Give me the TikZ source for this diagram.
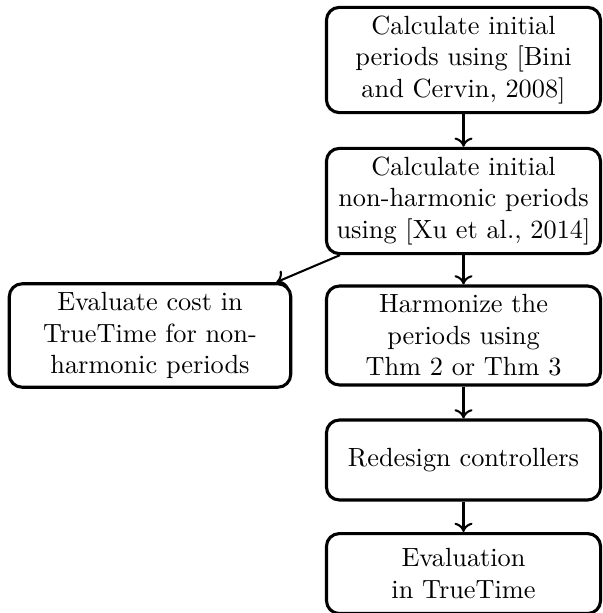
\documentclass[tikz,border=0pt]{standalone}
\usetikzlibrary{calc,arrows.meta}
\begin{document}
\begin{tikzpicture}[x=0.3876pt,y=-0.3876pt,
  flowbox/.style={draw,line width=1.2pt,rounded corners=5pt,align=center,
    text width=3.5cm,minimum height=31pt,inner sep=3.33pt,
    font=\fontsize{10.2}{12.2}\selectfont},
  flowarrow/.style={line width=0.8pt,-{To[length=3.6pt,width=7pt]}}]
\useasboundingbox (0,0) rectangle (602,613);
\node[flowbox] (b1) at (463.5,60) {Calculate initial\\periods using [Bini\\and Cervin, 2008]};
\node[flowbox] (b2) at (463.5,201) {Calculate initial\\non-harmonic periods\\using [Xu et al., 2014]};
\node[flowbox] (b3) at (463.5,335.5) {Harmonize the\\periods using\\Thm 2 or Thm 3};
\node[flowbox,text width=3.6cm] (lb) at (150,335.5) {Evaluate cost in\\TrueTime for non-\\harmonic periods};
\node[flowbox] (b4) at (463.5,460) {Redesign controllers};
\node[flowbox,anchor=north] (b5) at (463.5,532) {Evaluation\\in TrueTime};
\draw[flowarrow] (b1) -- (b2);
\draw[flowarrow] (b2) -- (b3);
\draw[flowarrow] (b3) -- (b4);
\draw[flowarrow] (b4) -- (b5);
\draw[flowarrow] ($(b2.south west)+(15,0)$) -- ($(lb.north east)+(-16,0)$);
\end{tikzpicture}
\end{document}
